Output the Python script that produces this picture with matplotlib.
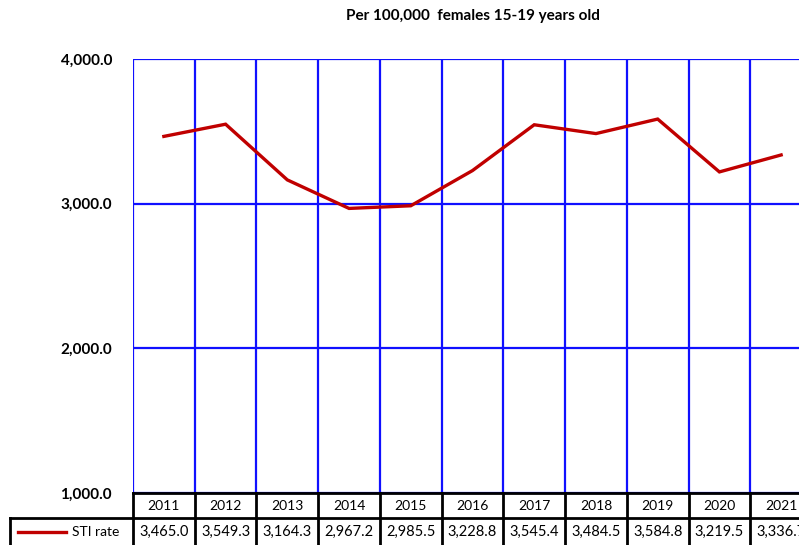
import matplotlib.pyplot as plt
import matplotlib.transforms as mtransforms

years = ["2011", "2012", "2013", "2014", "2015", "2016", "2017", "2018", "2019", "2020", "2021"]
sti_rate = [3465.0, 3549.3, 3164.3, 2967.2, 2985.5, 3228.8, 3545.4, 3484.5, 3584.8, 3219.5, 3336.7]
y_ticks = [1000, 2000, 3000, 4000]
series_name = "STI rate"
title = "Per 100,000  females 15-19 years old"

W, H = 799, 545
fig = plt.figure(figsize=(W / 100, H / 100), dpi=100)
plt.rcParams["font.family"] = ["Lato", "DejaVu Sans"]

# plot area in pixels (right edge runs past the image, as in the reference)
left, right, top, bottom = 133, 812, 59, 493
ax = fig.add_axes([left / W, (H - bottom) / H, (right - left) / W, (bottom - top) / H])

x = list(range(len(years)))
ax.plot(x, sti_rate, color="#C00000", lw=2.4, solid_joinstyle="miter", zorder=3)

ax.set_xlim(-0.5, len(years) - 0.5)
ax.set_ylim(1000, 4000)
ax.set_yticks(y_ticks)
ax.set_yticklabels([f"{v:,.1f}" for v in y_ticks], fontsize=11, fontweight="bold")
ax.tick_params(axis="y", length=0, pad=15)
ax.set_xticks([])

blue = "#1010FF"
for v in y_ticks:
    ax.axhline(v, color=blue, lw=1.6, zorder=1)
for i in range(len(years) + 1):
    ax.axvline(i - 0.5, color=blue, lw=1.6, zorder=1)
for s in ax.spines.values():
    s.set_visible(False)

fig.text((left + right) / 2 / W, 1 - 16 / H, title, ha="center", va="center",
         fontsize=11, fontweight="bold")

# data table drawn under the axes
trans = mtransforms.blended_transform_factory(ax.transData, ax.transAxes)
ph = bottom - top
cw = (right - left) / len(years)
r1 = -25 / ph   # bottom of header row
r2 = -60 / ph   # bottom of value row (outside the image)
mid = r1 - 13.5 / ph
lab_left = -0.5 - (left - 10) / cw
kw = dict(transform=trans, clip_on=False, color="black", lw=2)

ax.plot([-0.5, len(years) - 0.5], [0, 0], **kw)
ax.plot([lab_left, len(years) - 0.5], [r1, r1], **kw)
ax.plot([lab_left, lab_left], [r1, r2], **kw)
for i in range(len(years) + 1):
    ax.plot([i - 0.5, i - 0.5], [0, r2], **kw)

for i, (yr, val) in enumerate(zip(years, sti_rate)):
    ax.text(i, r1 / 2, yr, transform=trans, ha="center", va="center", fontsize=10)
    ax.text(i, mid, f"{val:,.1f}", transform=trans,
            ha="center", va="center", fontsize=10.5)

# legend key inside the row label cell
key_x0 = -0.5 - (left - 18) / cw
key_x1 = -0.5 - (left - 66) / cw
ax.plot([key_x0, key_x1], [mid, mid], transform=trans, clip_on=False,
        color="#C00000", lw=2.4)
ax.text(-0.5 - (left - 72) / cw, mid, series_name, transform=trans,
        ha="left", va="center", fontsize=10)

fig.savefig("out.png", dpi=100)
